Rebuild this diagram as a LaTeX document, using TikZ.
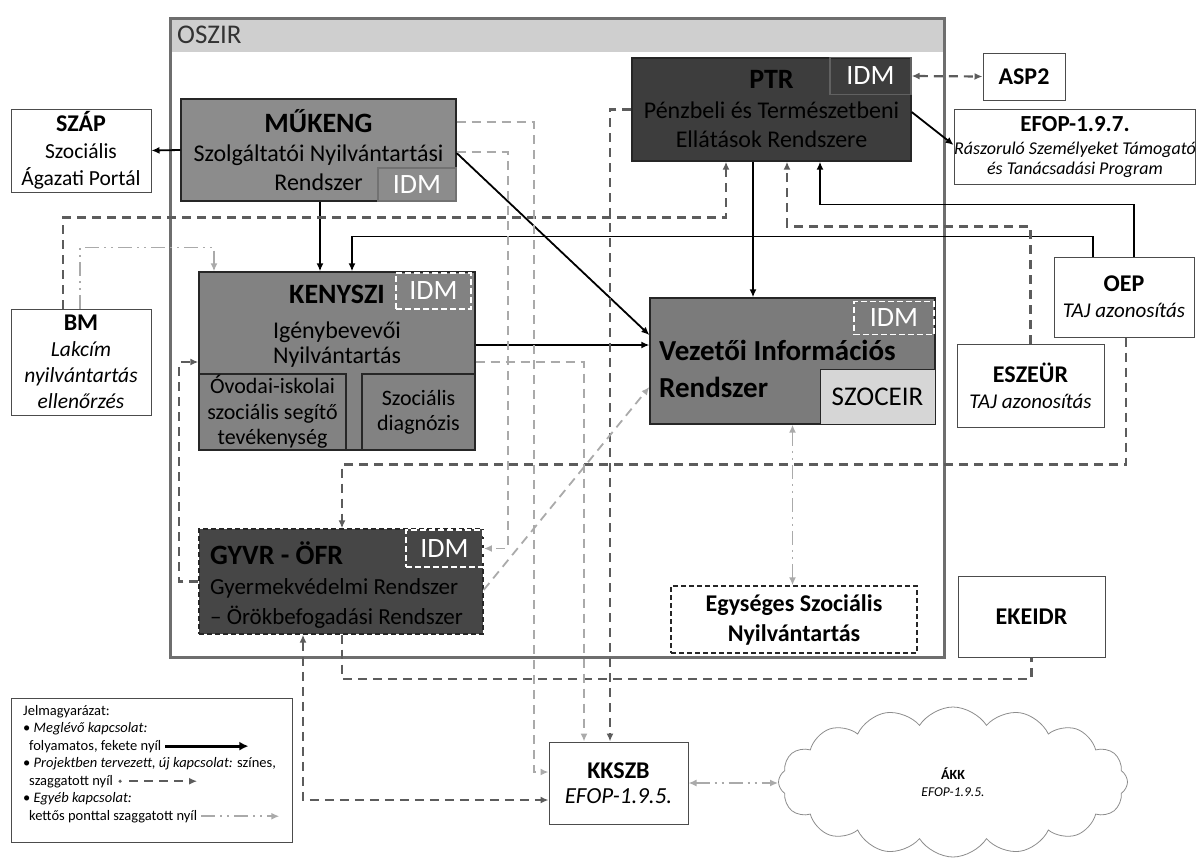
\documentclass[tikz,border=0pt]{standalone}
\usepackage{fontspec}
\setmainfont{Carlito}
\usetikzlibrary{arrows.meta,shapes.symbols}

\definecolor{framegray}{HTML}{6E6E6E}
\definecolor{headgray}{HTML}{CFCFCF}
\definecolor{mukgray}{HTML}{8C8C8C}
\definecolor{ptrgray}{HTML}{3D3D3D}
\definecolor{kengray}{HTML}{828282}
\definecolor{virgray}{HTML}{7B7B7B}
\definecolor{gyvrgray}{HTML}{464646}
\definecolor{szocgray}{HTML}{D6D6D6}
\definecolor{idmline}{HTML}{727272}
\definecolor{newgray}{HTML}{5C5C5C}
\definecolor{lightln}{HTML}{AAAAAA}

\newcommand{\sysname}[2]{{\fontsize{#1}{#1}\selectfont\bfseries #2}}

\tikzset{
  sysbox/.style={draw=black!85, line width=1.3pt, inner sep=0pt, align=center},
  extbox/.style={draw=black!70, fill=white, line width=1pt, inner sep=0pt, align=center,
    font=\fontsize{21.5}{27}\selectfont},
  idmtag/.style={text=white, inner sep=0pt, line width=1.3pt, font=\fontsize{28}{28}\selectfont},
  idmdash/.style={idmtag, draw=white, dash pattern=on 6pt off 3pt, line width=1.8pt},
  exist/.style={black, line width=1.8pt, ->},
  newc/.style={newgray, line width=2.2pt, dash pattern=on 9pt off 6pt, ->},
  lightc/.style={lightln, line width=1.8pt, dash pattern=on 9pt off 6pt, ->},
  otherc/.style={lightln, line width=1.8pt, dash pattern=on 14pt off 5pt on 2pt off 5pt on 2pt off 5pt, ->},
  legtext/.style={anchor=base west, inner sep=0pt, font=\fontsize{14.5}{17}\selectfont}
}

\begin{document}
\begin{tikzpicture}[x=1pt,y=-1pt,>={Latex[length=8pt,width=7pt]}]
\useasboundingbox (0,0) rectangle (1196,857);

\fill[headgray] (170,18) rectangle (944,52);
\draw[framegray, line width=3pt] (170,18) rectangle (944,657);
\node[anchor=west, inner sep=0pt, font=\fontsize{27}{30}\selectfont, text=black!80] (oszir) at (177,35) {OSZIR};

\node[extbox, minimum width=140pt, minimum height=83pt] (szap) at (81,150.5) {\sysname{24}{SZÁP}\\Szociális\\Ágazati Portál};
\node[extbox, minimum width=82pt, minimum height=47pt] (asp2) at (1024,76.5) {\sysname{24}{ASP2}};
\node[extbox, minimum width=234pt, minimum height=75pt, font=\fontsize{18}{20}\selectfont\itshape] (efop) at (1075,146.5) {\sysname{23}{\upshape EFOP-1.9.7.}\\[3pt]Rászoruló Személyeket Támogató\\és Tanácsadási Program};
\node[extbox, minimum width=140pt, minimum height=106pt, font=\fontsize{21.5}{26}\selectfont\itshape] (bm) at (81,362) {\sysname{24}{\upshape BM}\\Lakcím\\nyilvántartás\\ellenőrzés};
\node[extbox, minimum width=140pt, minimum height=80pt, font=\fontsize{21}{26}\selectfont\itshape] (oep) at (1124,297) {\sysname{24}{\upshape OEP}\\TAJ azonosítás};
\node[extbox, minimum width=147pt, minimum height=83pt, font=\fontsize{21}{26}\selectfont\itshape] (eszeur) at (1030.5,385.5) {\sysname{24}{\upshape ESZEÜR}\\TAJ azonosítás};
\node[extbox, minimum width=147pt, minimum height=81pt] (ekeidr) at (1031.5,616.5) {\sysname{24}{EKEIDR}};
\node[extbox, minimum width=139pt, minimum height=82pt, font=\fontsize{23}{25}\selectfont\itshape] (kkszb) at (618.5,783) {\sysname{24}{\upshape KKSZB}\\EFOP-1.9.5.};
\node[cloud, cloud puffs=16, cloud puff arc=115, cloud ignores aspect, draw=black!45, line width=0.8pt, minimum width=349pt, minimum height=150pt, align=center, font=\fontsize{13.5}{17}\selectfont\itshape] (akk) at (953,782) {\sysname{14}{\upshape ÁKK}\\EFOP-1.9.5.};

\node[sysbox, fill=mukgray, minimum width=275pt, minimum height=102pt, font=\fontsize{24}{29}\selectfont] (mukeng) at (318.5,150) {\sysname{28}{MŰKENG}\\Szolgáltatói Nyilvántartási\\Rendszer};
\node[idmtag, draw=idmline, minimum width=78pt, minimum height=33pt] (mukengidm) at (417,184.5) {IDM};

\node[sysbox, fill=ptrgray, text=black, minimum width=279pt, minimum height=103pt, font=\fontsize{24}{29.5}\selectfont] (ptr) at (771.5,109.5) {\sysname{28}{PTR}\\Pénzbeli és Természetbeni\\Ellátások Rendszere};
\node[idmtag, draw=black!62, minimum width=81pt, minimum height=37pt] (ptridm) at (870.5,76) {IDM};

\node[sysbox, fill=kengray, minimum width=276pt, minimum height=178pt] (kenyszi) at (337,361) {};
\node[sysbox, fill=kengray, minimum width=147pt, minimum height=76pt, font=\fontsize{22}{25.5}\selectfont] (kenysziovi) at (272.5,412) {Óvodai-iskolai\\szociális segítő\\tevékenység};
\node[sysbox, fill=kengray, minimum width=113pt, minimum height=76pt, font=\fontsize{22}{25.5}\selectfont] (kenyszidiag) at (418.5,412) {Szociális\\diagnózis};
\node[align=center, inner sep=0pt, font=\fontsize{24}{25}\selectfont] (kenyszitext) at (337,326) {\sysname{28}{KENYSZI}\\[10pt]Igénybevevői\\Nyilvántartás};
\node[idmdash, minimum width=75pt, minimum height=36pt] (kenysziidm) at (433.5,291) {IDM};

\node[sysbox, fill=virgray, minimum width=285pt, minimum height=126pt] (vir) at (792.5,361) {};
\node[anchor=west, align=left, inner sep=0pt, font=\fontsize{29}{37}\selectfont\bfseries] (virtext) at (659,369) {Vezetői Információs\\Rendszer};
\node[sysbox, fill=szocgray, line width=1pt, minimum width=115pt, minimum height=55pt, font=\fontsize{27}{27}\selectfont] (szoceir) at (877.5,396.5) {SZOCEIR};
\node[idmdash, minimum width=80pt, minimum height=33pt] (viridm) at (894,318) {IDM};

\node[sysbox, fill=gyvrgray, dash pattern=on 5pt off 3pt, minimum width=284pt, minimum height=105pt] (gyvr) at (341,581.5) {};
\node[anchor=west, align=left, inner sep=0pt, text=black, font=\fontsize{23}{30}\selectfont] (gyvrtext) at (210,585.5) {\sysname{28}{GYVR - ÖFR}\\Gyermekvédelmi Rendszer\\– Örökbefogadási Rendszer};
\node[idmdash, minimum width=77pt, minimum height=37pt] (gyvridm) at (444.5,548.5) {IDM};

\node[sysbox, fill=white, dash pattern=on 5pt off 3pt, line width=1.5pt, minimum width=246pt, minimum height=67pt, font=\fontsize{24}{30}\selectfont\bfseries] (egys) at (794,619.5) {Egységes Szociális\\Nyilvántartás};

\node[draw=black!70, line width=1pt, minimum width=281pt, minimum height=144pt, inner sep=0pt] (legend) at (151.5,770) {};
\node[legtext] (leg1) at (23,715) {Jelmagyarázat:};
\node[legtext] (leg2) at (23,732.5) {• \textit{Meglévő kapcsolat:}};
\node[legtext] (leg3) at (29,750) {folyamatos, fekete nyíl};
\node[legtext] (leg4) at (23,767.5) {• \textit{Projektben tervezett, új kapcsolat:} színes,};
\node[legtext] (leg5) at (29,785) {szaggatott nyíl};
\node[legtext] (leg6) at (23,802.5) {• \textit{Egyéb kapcsolat:}};
\node[legtext] (leg7) at (29,820) {kettős ponttal szaggatott nyíl};
\draw[exist, line width=3pt, >={Latex[length=9pt,width=9pt]}] ([xshift=4pt]leg3.east) -- ++(83,0);
\fill[newgray] ([xshift=7pt]leg5.east) circle (1.8pt);
\draw[newc] ([xshift=16pt]leg5.east) -- ++(68,0);
\draw[otherc] ([xshift=4pt]leg7.east) -- ++(78,0);

\draw[exist] (mukeng.west) -- (szap.east);
\draw[exist] ([xshift=1.5pt]mukeng.south) -- ([xshift=-17pt]kenyszi.north);
\draw[exist] ([yshift=-3pt]mukeng.east) -- ([yshift=26pt]vir.west);
\draw[exist] ([xshift=-18.5pt]ptr.south) -- ([xshift=-39.5pt]vir.north);
\draw[exist] ([yshift=16pt]kenyszi.east) -- ([yshift=16pt]vir.west);
\draw[exist] ([yshift=-2.5pt]ptr.east) -- ([yshift=1.5pt]efop.west);
\draw[exist] ([xshift=10pt]oep.north) -- ++(0,-52) -| ([xshift=48.5pt]ptr.south);
\draw[exist] ([xshift=-31pt]oep.north) -- ++(0,-20) -| ([xshift=15pt]kenyszi.north);

\draw[newc] (eszeur.north) -- ++(0,-117) -| ([xshift=15.5pt]ptr.south);
\draw[newc] ([xshift=-18pt]bm.north) -- ++(0,-91) -| ([xshift=-45.5pt]ptr.south);
\draw[newc] (ptr.west) -| ([xshift=-8.5pt]kkszb.north);
\draw[newc] ([xshift=2pt]oep.south) -- ++(0,127) -| ([xshift=1pt]gyvr.north);
\draw[newc, <->] ([xshift=-38pt]gyvr.south) |- ([yshift=-17pt]kkszb.west);
\draw[newc] (gyvr.west) -- ++(-19,0) |- ([yshift=-1pt]kenyszi.west);
\draw[newc, -] ([xshift=1pt]gyvr.south) -- ++(0,44) -| (ekeidr.south);
\draw[newc, <->] (ptridm.east) -- (asp2.west);

\draw[lightc] ([yshift=-1pt]kenyszi.east) -| ([xshift=-34.5pt]kkszb.north);
\draw[lightc] ([yshift=28pt]mukeng.east) -- ++(77,0) |- ([yshift=11pt]kkszb.west);
\draw[lightc] ([yshift=-2pt]mukeng.east) -- ++(51,0) |- (gyvridm.east);
\draw[lightc] ([yshift=-8.5pt]gyvr.east) -- ([yshift=-26pt]vir.west);

\draw[otherc] ([xshift=-1pt]bm.north) -- ++(0,-61) -| ([xshift=-123pt]kenyszi.north);
\draw[otherc, <->] (vir.south) -- (vir.south |- egys.north);
\draw[otherc, <->] (kkszb.east) -- (kkszb.east -| akk.west);
\end{tikzpicture}
\end{document}
